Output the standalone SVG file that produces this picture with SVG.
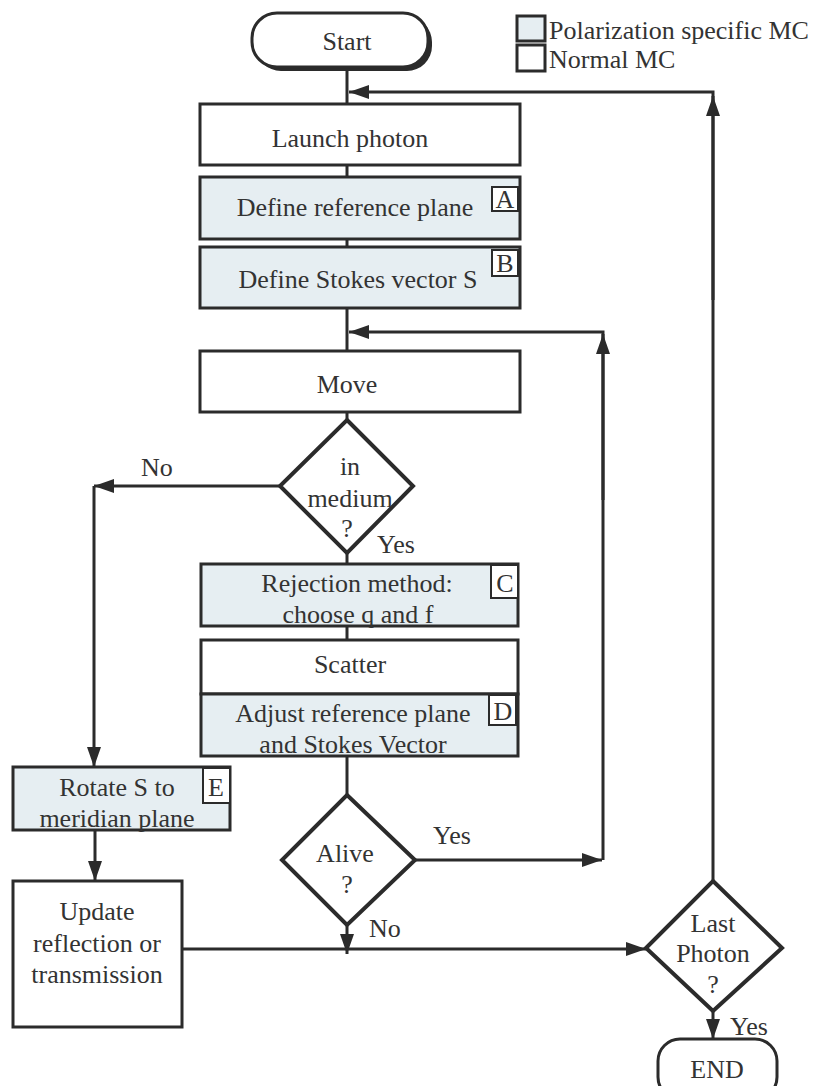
<svg xmlns="http://www.w3.org/2000/svg" width="823" height="1086" viewBox="0 0 823 1086">
<defs>
<style>
.box{fill:#ffffff;stroke:#2b2b2b;stroke-width:3}
.pol{fill:#e6eef2;stroke:#2b2b2b;stroke-width:3}
.tag{fill:#ffffff;stroke:#2b2b2b;stroke-width:2}
.dia{fill:#ffffff;stroke:#2b2b2b;stroke-width:4;stroke-linejoin:miter}
.t{font-family:"Liberation Serif","Times New Roman",serif;font-size:26px;fill:#333333;text-anchor:middle}
.l{font-family:"Liberation Serif","Times New Roman",serif;font-size:26px;fill:#333333}
.c{fill:none;stroke:#2b2b2b;stroke-width:3}
</style>
<marker id="ah" markerUnits="userSpaceOnUse" markerWidth="22" markerHeight="14" refX="20" refY="7" orient="auto">
<path d="M0,0 L20,7 L0,14 Z" fill="#2b2b2b"/>
</marker>
</defs>
<rect width="823" height="1086" fill="#ffffff"/>

<g id="legend">
<rect class="pol" x="517" y="16" width="28" height="25" stroke-width="2.5"/>
<text class="l" x="549" y="39" font-size="27">Polarization specific MC</text>
<rect class="box" x="517" y="45" width="28" height="26" stroke-width="2.5"/>
<text class="l" x="549" y="68" font-size="27">Normal MC</text>
</g>

<g id="connectors">
<line class="c" x1="347" y1="68" x2="347" y2="105"/>
<polyline class="c" points="713,880 713,92 349,92" marker-end="url(#ah)"/>
<line class="c" x1="713" y1="300" x2="713" y2="96" marker-end="url(#ah)"/>
<line class="c" x1="347" y1="165" x2="347" y2="177"/>
<line class="c" x1="347" y1="239" x2="347" y2="247"/>
<line class="c" x1="347" y1="308" x2="347" y2="351"/>
<polyline class="c" points="603,860 603,332 349,332" marker-end="url(#ah)"/>
<line class="c" x1="603" y1="500" x2="603" y2="334" marker-end="url(#ah)"/>
<line class="c" x1="347" y1="412" x2="347" y2="420"/>
<line class="c" x1="280" y1="486" x2="94" y2="486" marker-end="url(#ah)"/>
<line class="c" x1="94" y1="486" x2="94" y2="767" marker-end="url(#ah)"/>
<line class="c" x1="347" y1="553" x2="347" y2="564"/>
<line class="c" x1="347" y1="626" x2="347" y2="640"/>
<line class="c" x1="347" y1="756" x2="347" y2="795"/>
<line class="c" x1="415" y1="860" x2="602" y2="860" marker-end="url(#ah)"/>
<line class="c" x1="347" y1="925" x2="347" y2="954" marker-end="url(#ah)"/>
<line class="c" x1="95" y1="830" x2="95" y2="881" marker-end="url(#ah)"/>
<line class="c" x1="182" y1="949" x2="646" y2="949" marker-end="url(#ah)"/>
<line class="c" x1="713" y1="1010" x2="713" y2="1039" marker-end="url(#ah)"/>
<text class="l" x="141" y="476">No</text>
<text class="l" x="377" y="553">Yes</text>
<text class="l" x="433" y="844">Yes</text>
<text class="l" x="369" y="937">No</text>
<text class="l" x="730" y="1035">Yes</text>
</g>

<g id="start">
<rect x="256" y="17" width="176" height="54" rx="25" fill="#2b2b2b"/>
<rect class="box" x="252" y="13" width="176" height="54" rx="25"/>
<text class="t" x="347" y="50">Start</text>
</g>

<g id="launch">
<rect class="box" x="200" y="104" width="320" height="61"/>
<text class="t" x="350" y="147">Launch photon</text>
</g>

<g id="refplane">
<rect class="pol" x="200" y="177" width="320" height="62"/>
<rect class="tag" x="492" y="187" width="26" height="24"/>
<text class="t" x="505" y="208" font-size="24">A</text>
<text class="t" x="355" y="216">Define reference plane</text>
</g>

<g id="stokes">
<rect class="pol" x="200" y="247" width="320" height="61"/>
<rect class="tag" x="492" y="250" width="26" height="26"/>
<text class="t" x="505" y="272" font-size="24">B</text>
<text class="t" x="358" y="288">Define Stokes vector S</text>
</g>

<g id="move">
<rect class="box" x="200" y="351" width="320" height="61"/>
<text class="t" x="347" y="393">Move</text>
</g>

<g id="inmedium">
<polygon class="dia" points="347,420 413,486 347,553 280,486"/>
<text class="t" x="350" y="475">in</text>
<text class="t" x="350" y="507">medium</text>
<text class="t" x="347" y="537">?</text>
</g>

<g id="rejection">
<rect class="pol" x="201" y="564" width="317" height="62"/>
<rect class="tag" x="491" y="565" width="27" height="33"/>
<text class="t" x="505" y="592" font-size="24">C</text>
<text class="t" x="357" y="592">Rejection method:</text>
<text class="t" x="358" y="623">choose q and f</text>
</g>

<g id="scatter">
<rect class="box" x="201" y="640" width="317" height="54"/>
<rect class="pol" x="201" y="694" width="317" height="62"/>
<rect class="tag" x="489" y="695" width="27" height="30"/>
<text class="t" x="503" y="720" font-size="24">D</text>
<text class="t" x="350" y="673">Scatter</text>
<text class="t" x="353" y="722">Adjust reference  plane</text>
<text class="t" x="353" y="753">and Stokes Vector</text>
</g>

<g id="alive">
<polygon class="dia" points="347,795 415,860 347,925 282,860"/>
<text class="t" x="345" y="862">Alive</text>
<text class="t" x="347" y="893">?</text>
</g>

<g id="rotate">
<rect class="pol" x="13" y="767" width="217" height="63"/>
<rect class="tag" x="203" y="768" width="27" height="35"/>
<text class="t" x="216" y="796" font-size="24">E</text>
<text class="t" x="117" y="796">Rotate S to</text>
<text class="t" x="117" y="827">meridian plane</text>
</g>

<g id="update">
<rect class="box" x="13" y="881" width="169" height="146"/>
<text class="t" x="97" y="920">Update</text>
<text class="t" x="97" y="952">reflection or</text>
<text class="t" x="97" y="983">transmission</text>
</g>

<g id="lastphoton">
<polygon class="dia" points="713,881 782,948 713,1011 646,948"/>
<text class="t" x="713" y="932">Last</text>
<text class="t" x="713" y="962">Photon</text>
<text class="t" x="713" y="993">?</text>
</g>

<g id="end">
<rect class="box" x="658" y="1039" width="119" height="60" rx="22"/>
<text class="t" x="717" y="1078">END</text>
</g>
</svg>
